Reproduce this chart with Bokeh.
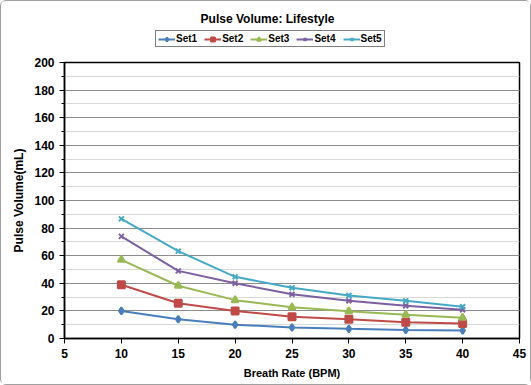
from bokeh.plotting import figure
from bokeh.models import Legend, LegendItem, Label, FixedTicker, Range1d
from bokeh.layouts import column
from bokeh.embed import file_html
from bokeh.resources import INLINE

x = [10, 15, 20, 25, 30, 35, 40]
set1 = [20, 14, 10, 8, 7, 6.2, 5.8]
set2 = [39, 25.5, 20, 15.8, 14, 11.8, 10.9]
set3 = [57, 38.2, 27.8, 22.7, 19.8, 17.2, 15]
set4 = [74, 49, 40, 32, 27.3, 23.7, 20.8]
set5 = [86.7, 63.3, 44.7, 36.7, 31.2, 27.3, 23]
names = ["Set1", "Set2", "Set3", "Set4", "Set5"]
colors = ["#4a7ebb", "#be4b48", "#98b954", "#7d60a0", "#46aac5"]
markers = ["diamond", "square", "triangle", "x", "x"]
title_text = "Pulse Volume: Lifestyle"

FONT = "Liberation Sans"
W = 529
TOP_H = 53
ML, MR = 63, 11   # frame borders (inside 1px outer border)
NAN = float("nan")

# header figure: title + legend (frame aligned with the main frame)
h = figure(width=W, height=TOP_H, output_backend="svg", toolbar_location=None,
           x_range=Range1d(ML, W - MR), y_range=Range1d(0, TOP_H),
           x_axis_type=None, y_axis_type=None,
           min_border_left=ML, min_border_right=MR, min_border_top=0, min_border_bottom=0)
h.grid.visible = False
h.outline_line_color = None

# main figure
p = figure(width=W, height=383 - TOP_H, output_backend="svg", toolbar_location=None,
           x_range=Range1d(5, 45), y_range=Range1d(0, 200),
           min_border_left=ML, min_border_right=MR, min_border_top=61 - TOP_H, min_border_bottom=46)

p.xaxis.ticker = FixedTicker(ticks=list(range(5, 50, 5)))
p.yaxis.ticker = FixedTicker(ticks=list(range(0, 220, 20)), minor_ticks=list(range(0, 210, 10)))

p.xgrid.visible = False
p.ygrid.grid_line_color = "#8c8c8c"
p.ygrid.grid_line_width = 1
p.ygrid.minor_grid_line_color = "#d9d9d9"

for ax in (p.xaxis, p.yaxis):
    ax.axis_line_color = "black"
    ax.axis_line_width = 1.5
    ax.major_tick_line_color = "black"
    ax.major_tick_out = 5
    ax.major_tick_in = 0
    ax.minor_tick_line_color = "black"
    ax.minor_tick_out = 3
    ax.minor_tick_in = 0
    ax.major_label_text_font = FONT
    ax.major_label_text_font_style = "bold"
    ax.major_label_text_font_size = "12px"
    ax.major_label_text_color = "black"
    ax.axis_label_text_font = FONT
    ax.axis_label_text_font_style = "bold"
    ax.axis_label_text_color = "black"
p.xaxis.minor_tick_line_color = None
p.xaxis.axis_label = "Breath Rate (BPM)"
p.yaxis.axis_label = "Pulse Volume(mL)"
p.xaxis.axis_label_text_font_size = "11px"
p.yaxis.axis_label_text_font_size = "12px"
p.xaxis.axis_label_standoff = 6
p.yaxis.axis_label_standoff = 5

p.outline_line_color = "black"
p.outline_line_width = 1.5

items = []
for ys, n, c, m in zip([set1, set2, set3, set4, set5], names, colors, markers):
    p.line(x, ys, line_color=c, line_width=2)
    p.scatter(x, ys, marker=m, size=7, fill_color=c, line_color=c, line_width=2)
    # legend swatches in the header figure (NaN data: nothing drawn in the plot)
    d1 = h.line(x=[NAN], y=[NAN], line_color=c, line_width=2)
    d2 = h.scatter(x=[NAN], y=[NAN], marker=m, size=7, fill_color=c, line_color=c, line_width=2)
    items.append(LegendItem(label=n, renderers=[d1, d2]))

leg = Legend(items=items, orientation="horizontal", location=(154 - ML, TOP_H - 46),
             border_line_color="black", border_line_width=1.5,
             label_text_font=FONT, label_text_font_style="bold", label_text_font_size="10px",
             label_text_color="black",
             glyph_width=17, glyph_height=10, label_standoff=1, spacing=7,
             padding=2, margin=0, label_height=10, background_fill_alpha=1)
h.add_layout(leg, "center")

h.add_layout(Label(x=266, y=TOP_H - 17, text=title_text, text_font=FONT, text_font_style="bold",
                   text_font_size="12px", text_color="black",
                   text_align="center", text_baseline="middle"))

layout = column(h, p, spacing=0)
layout.styles = {"border": "1px solid #a0a0a0", "border-radius": "6px"}
open("out.html", "w").write(file_html(layout, INLINE))
